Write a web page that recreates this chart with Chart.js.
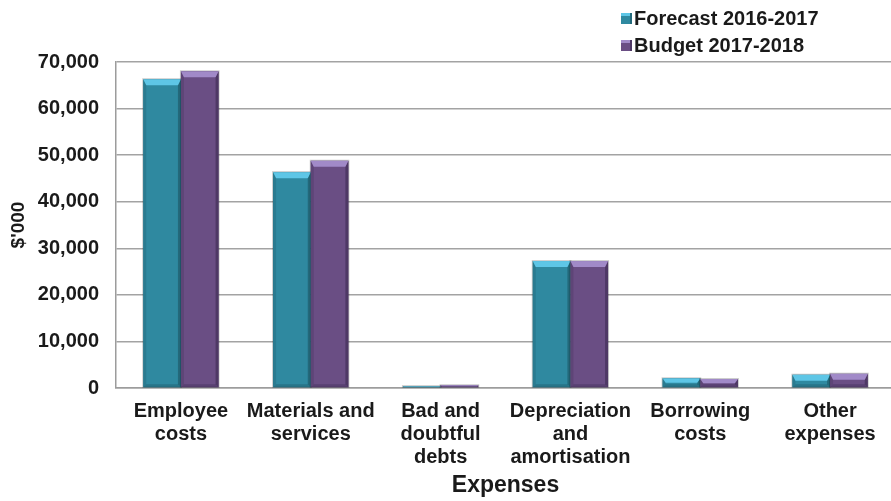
<!DOCTYPE html>
<html>
<head>
<meta charset="utf-8">
<script src="https://cdn.jsdelivr.net/npm/chart.js"></script>
<style>
  html, body { margin: 0; padding: 0; background: #fff; overflow: hidden; }
  #wrap { width: 895px; height: 501px; }
</style>
</head>
<body>
<div id="wrap"><canvas id="myChart"></canvas></div>
<script>
const categories = [
  ['Employee', 'costs'],
  ['Materials and', 'services'],
  ['Bad and', 'doubtful', 'debts'],
  ['Depreciation', 'and', 'amortisation'],
  ['Borrowing', 'costs'],
  ['Other', 'expenses']
];
const forecast = [66300, 46350, 400, 27250, 2080, 2850];
const budget = [68000, 48800, 600, 27250, 1930, 3070];
const seriesNames = ['Forecast 2016-2017', 'Budget 2017-2018'];

const FONT = '"Liberation Sans", Arial, sans-serif';

// face / bevel colours for each series
const shades = [
  { main: '#2F89A0', top: '#5EC6E6', right: '#23697B', left: '#2A7B90', bottom: '#287589' },
  { main: '#6A4E84', top: '#A18AC8', right: '#4E3865', left: '#5E4577', bottom: '#594172' }
];

function poly(ctx, pts) {
  ctx.beginPath();
  ctx.moveTo(pts[0][0], pts[0][1]);
  for (let k = 1; k < pts.length; k++) ctx.lineTo(pts[k][0], pts[k][1]);
  ctx.closePath();
  ctx.fill();
}

// bevelled look on top of every bar
const bevel = {
  id: 'bevel',
  afterDatasetsDraw(chart) {
    const ctx = chart.ctx;
    chart.data.datasets.forEach((ds, i) => {
      const tone = shades[i];
      chart.getDatasetMeta(i).data.forEach(bar => {
        const { x, y, base, width } = bar.getProps(['x', 'y', 'base', 'width'], true);
        const l = x - width / 2, r = x + width / 2, h = base - y;
        const dt = Math.min(6, h / 2), ds2 = Math.min(3, h / 2), dl = Math.min(3, h / 2);
        ctx.save();
        ctx.fillStyle = tone.left;
        poly(ctx, [[l, y], [l + dl, y + dt], [l + dl, base - ds2], [l, base]]);
        ctx.fillStyle = tone.bottom;
        poly(ctx, [[l, base], [l + dl, base - ds2], [r - ds2, base - ds2], [r, base]]);
        ctx.fillStyle = tone.right;
        poly(ctx, [[r, y], [r, base], [r - ds2, base - ds2], [r - ds2, y + dt]]);
        ctx.fillStyle = tone.top;
        poly(ctx, [[l, y], [r, y], [r - ds2, y + dt], [l + dl, y + dt]]);
        ctx.strokeStyle = 'rgba(0,0,0,0.2)';
        ctx.lineWidth = 1;
        ctx.strokeRect(l - 0.5, y - 0.5, width + 1, h + 0.5);
        ctx.restore();
      });
    });
  }
};

// stacked legend in the upper right corner
const cornerLegend = {
  id: 'cornerLegend',
  afterDraw(chart) {
    const ctx = chart.ctx;
    ctx.save();
    ctx.font = 'bold 20px ' + FONT;
    ctx.textBaseline = 'middle';
    ctx.textAlign = 'left';
    chart.data.datasets.forEach((ds, i) => {
      const yy = 18 + i * 27;
      const tone = shades[i];
      ctx.fillStyle = tone.main;
      ctx.fillRect(621, yy - 5, 11, 11);
      ctx.fillStyle = tone.top;
      ctx.fillRect(621, yy - 5, 11, 3);
      ctx.fillStyle = tone.right;
      ctx.fillRect(630, yy - 5, 2, 11);
      ctx.fillStyle = '#1a1a1a';
      ctx.fillText(ds.label, 634, yy + 1);
    });
    ctx.restore();
  }
};

const ctx = document.querySelector('#myChart');
new Chart(ctx, {
  type: 'bar',
  data: {
    labels: categories,
    datasets: [
      { label: seriesNames[0], data: forecast, backgroundColor: shades[0].main },
      { label: seriesNames[1], data: budget, backgroundColor: shades[1].main }
    ]
  },
  options: {
    responsive: true,
    maintainAspectRatio: false,
    animation: false,
    layout: { padding: { top: 62, right: 0, left: 0, bottom: 0 } },
    datasets: { bar: { categoryPercentage: 0.58, barPercentage: 1.0 } },
    plugins: {
      legend: { display: false },
      tooltip: { enabled: false }
    },
    scales: {
      x: {
        afterFit(scale) { scale.height = 113; },
        grid: { display: false, drawTicks: false },
        border: { display: true, color: '#9c9c9c', width: 1.5 },
        ticks: {
          color: '#1a1a1a',
          padding: 12,
          maxRotation: 0,
          autoSkip: false,
          font: { family: FONT, size: 20, weight: 'bold', lineHeight: 1.15 }
        },
        title: {
          display: true,
          text: 'Expenses',
          color: '#1a1a1a',
          padding: { top: 0, bottom: 2 },
          font: { family: FONT, size: 23, weight: 'bold' }
        }
      },
      y: {
        min: 0,
        max: 70000,
        afterFit(scale) { scale.width = 116; },
        grid: { color: '#a3a3a3', lineWidth: 1.5, drawTicks: false },
        border: { display: true, color: '#9c9c9c', width: 1.5 },
        ticks: {
          stepSize: 10000,
          padding: 17,
          color: '#1a1a1a',
          font: { family: FONT, size: 20, weight: 'bold' },
          callback: v => v.toLocaleString('en-US')
        },
        title: {
          display: true,
          text: "$'000",
          color: '#1a1a1a',
          padding: { top: 7, bottom: 0 },
          font: { family: FONT, size: 19, weight: 'bold' }
        }
      }
    }
  },
  plugins: [bevel, cornerLegend]
});
</script>
</body>
</html>
